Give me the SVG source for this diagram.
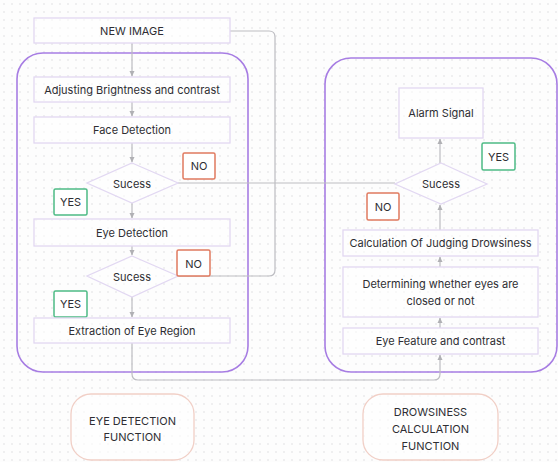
<svg xmlns="http://www.w3.org/2000/svg" width="558" height="462" viewBox="0 0 558 462">
<defs>
<pattern id="dots" width="8" height="8" patternUnits="userSpaceOnUse">
<circle cx="4" cy="4" r="0.7" fill="#d4d4d8"/>
</pattern>
<marker id="arr" viewBox="0 0 6 6" refX="5" refY="3" markerWidth="5" markerHeight="5" orient="auto-start-reverse">
<path d="M0,0.5 L5.5,3 L0,5.5 z" fill="#b0b0b4"/>
</marker>
<style>
.box{fill:#ffffff;fill-opacity:0.55;stroke:#e2d8f2;stroke-width:1.3}
.dia{fill:#ffffff;fill-opacity:0.55;stroke:#e2d8f2;stroke-width:1.3}
.cont{fill:none;stroke:#a77de3;stroke-width:1.6}
.no{fill:#ffffff;stroke:#e07a5f;stroke-width:1.5}
.yes{fill:#ffffff;stroke:#4dbb85;stroke-width:1.5}
.fn{fill:#ffffff;fill-opacity:0.6;stroke:#f1cfc6;stroke-width:1.3}
.ln{fill:none;stroke:#bdbdc2;stroke-width:1.2}
text{font-family:Inter,"Liberation Sans",sans-serif;font-size:11px;fill:#2e2e33;text-anchor:middle;dominant-baseline:central}
</style>
</defs>
<rect width="558" height="462" fill="#fdfdfd"/>
<rect width="558" height="462" fill="url(#dots)"/>

<g id="eye-detection-container"><rect class="cont" x="17" y="53" width="231" height="319" rx="26"/></g>
<g id="drowsiness-container"><rect class="cont" x="325" y="58" width="232" height="314" rx="26"/></g>

<g id="connectors">
<path class="ln" d="M230,31 H269 Q275,31 275,37 V270 Q275,276 269,276 H178"/>
<path class="ln" d="M132,43 V76" marker-end="url(#arr)"/>
<path class="ln" d="M132,102 V116" marker-end="url(#arr)"/>
<path class="ln" d="M132,143 V162" marker-end="url(#arr)"/>
<path class="ln" d="M132,203 V218" marker-end="url(#arr)"/>
<path class="ln" d="M132,246 V255" marker-end="url(#arr)"/>
<path class="ln" d="M132,297 V317" marker-end="url(#arr)"/>
<path class="ln" d="M178,183 H395"/>
<path class="ln" d="M132,343 V374 Q132,380 138,380 H434 Q440,380 440,374 V355" marker-end="url(#arr)"/>
<path class="ln" d="M440,328 V318" marker-end="url(#arr)"/>
<path class="ln" d="M440,267 V257" marker-end="url(#arr)"/>
<path class="ln" d="M440,230 V205" marker-end="url(#arr)"/>
<path class="ln" d="M440,163 V139" marker-end="url(#arr)"/>
</g>

<g id="new-image"><rect class="box" x="34" y="18" width="196" height="25"/><text x="132" y="31">NEW IMAGE</text></g>
<g id="adjusting"><rect class="box" x="34" y="77" width="196" height="25"/><text x="132" y="90">Adjusting Brightness and contrast</text></g>
<g id="face-detection"><rect class="box" x="34" y="117" width="196" height="26"/><text x="132" y="130">Face Detection</text></g>
<g id="success1"><polygon class="dia" points="132,163 178,183 132,203 87,183"/><text x="132" y="184">Sucess</text></g>
<g id="no1"><rect class="no" x="183" y="153" width="32" height="26" rx="1.5"/><text x="199" y="166">NO</text></g>
<g id="yes1"><rect class="yes" x="54" y="189" width="33" height="26" rx="1.5"/><text x="70.5" y="202">YES</text></g>
<g id="eye-detection"><rect class="box" x="34" y="219" width="196" height="27"/><text x="132" y="233">Eye Detection</text></g>
<g id="success2"><polygon class="dia" points="132,256 178,276 132,297 87,276"/><text x="132" y="277">Sucess</text></g>
<g id="no2"><rect class="no" x="177" y="250" width="33" height="26" rx="1.5"/><text x="193.5" y="264">NO</text></g>
<g id="yes2"><rect class="yes" x="54" y="291" width="33" height="26" rx="1.5"/><text x="70.5" y="304">YES</text></g>
<g id="extraction"><rect class="box" x="34" y="318" width="196" height="25"/><text x="132" y="331">Extraction of Eye Region</text></g>

<g id="alarm"><rect class="box" x="399" y="88" width="84" height="50"/><text x="441" y="113">Alarm Signal</text></g>
<g id="success3"><polygon class="dia" points="441,163 487,184 441,204 395,184"/><text x="441" y="184">Sucess</text></g>
<g id="yes3"><rect class="yes" x="482" y="143" width="33" height="27" rx="1.5"/><text x="498.5" y="157">YES</text></g>
<g id="no3"><rect class="no" x="367" y="193" width="32" height="27" rx="1.5"/><text x="383" y="207">NO</text></g>
<g id="calculation"><rect class="box" x="343" y="230" width="195" height="26"/><text x="440.5" y="243">Calculation Of Judging Drowsiness</text></g>
<g id="determining"><rect class="box" x="343" y="267" width="195" height="50"/><text x="440.5" y="284">Determining whether eyes are</text><text x="440.5" y="301">closed or not</text></g>
<g id="eye-feature"><rect class="box" x="343" y="328" width="195" height="26"/><text x="440.5" y="341">Eye Feature and contrast</text></g>

<g id="eye-detection-function"><rect class="fn" x="71" y="394" width="123" height="66" rx="20"/><text x="132.5" y="421">EYE DETECTION</text><text x="132.5" y="437">FUNCTION</text></g>
<g id="drowsiness-function"><rect class="fn" x="363" y="394" width="135" height="66" rx="20"/><text x="430.5" y="412">DROWSINESS</text><text x="430.5" y="429">CALCULATION</text><text x="430.5" y="446">FUNCTION</text></g>
</svg>
